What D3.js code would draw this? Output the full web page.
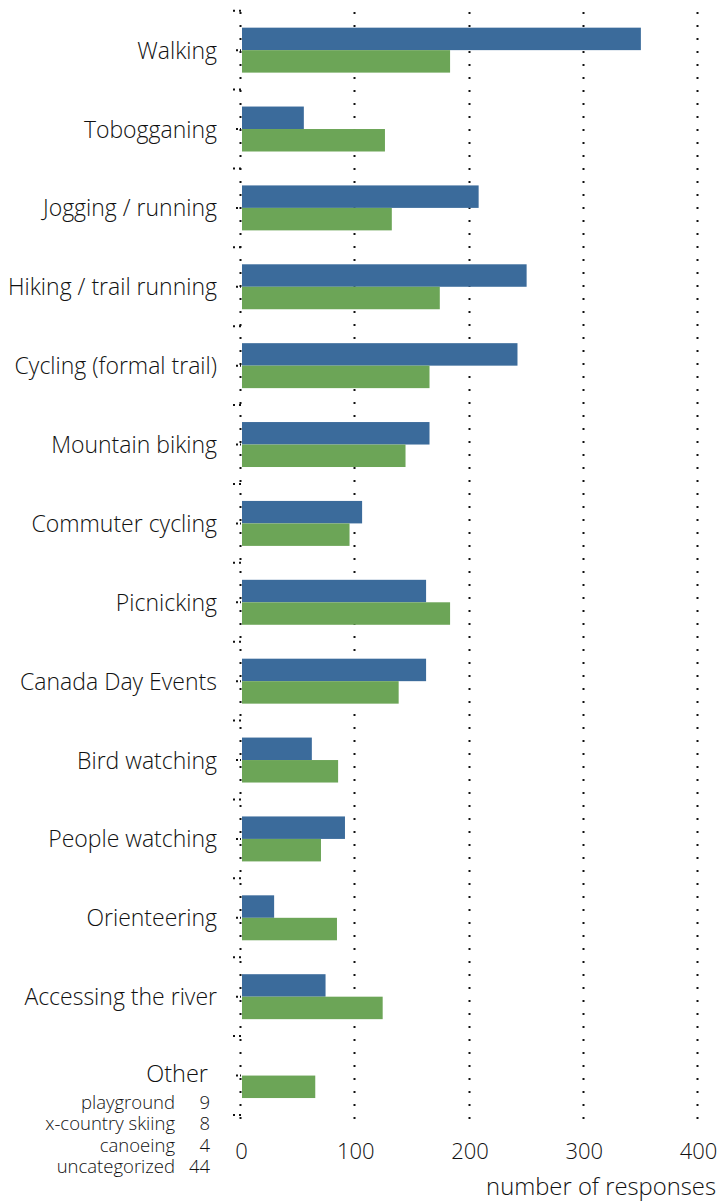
<!DOCTYPE html>
<html>
<head>
<meta charset="utf-8">
<script src="https://cdn.jsdelivr.net/npm/d3@7"></script>
<style>
body { margin: 0; background: #fff; }
text { font-family: "Open Sans", "Noto Sans", sans-serif; font-weight: 300; fill: #111; }
</style>
</head>
<body>
<svg id="chart" width="717" height="1201"></svg>
<script>
var categories = ["Walking", "Tobogganing", "Jogging / running", "Hiking / trail running",
  "Cycling (formal trail)", "Mountain biking", "Commuter cycling", "Picnicking",
  "Canada Day Events", "Bird watching", "People watching", "Orienteering",
  "Accessing the river", "Other"];
var blueValues = [350, 55, 208, 250, 242, 165, 106, 162, 162, 62, 91, 29, 74, 0];
var greenValues = [183, 126, 132, 174, 165, 144, 95, 183, 138, 85, 70, 84, 124, 65];
var otherNames = ["playground", "x-country skiing", "canoeing", "uncategorized"];
var otherCounts = [9, 8, 4, 44];
var xTicks = [0, 100, 200, 300, 400];

var blue = "#3b6b9b", green = "#6ca557";

var svg = d3.select("#chart");

var x = d3.scaleLinear().domain([0, 400]).range([241, 698]);
var y = d3.scaleBand().domain(categories).range([10.7, 1115]).paddingInner(0.43).paddingOuter(0.215);
var sub = d3.scaleBand().domain(["blue", "green"]).range([0, y.bandwidth()]);

// dotted grid lines
svg.append("g").selectAll("line")
  .data(xTicks)
  .enter().append("line")
  .attr("x1", function(d) { return Math.round(x(d)) - 0.5; })
  .attr("x2", function(d) { return Math.round(x(d)) - 0.5; })
  .attr("y1", 12)
  .attr("y2", 1120)
  .attr("stroke", "#111")
  .attr("stroke-width", 2)
  .attr("stroke-dasharray", "2,11");

// small dotted ticks on the category axis
var step = y.step();
var bounds = d3.range(categories.length + 1).map(function(i) { return 10.7 + i * step; });
svg.append("g").selectAll("line")
  .data(bounds)
  .enter().append("line")
  .attr("x1", 233).attr("x2", 241)
  .attr("y1", function(d) { return d; }).attr("y2", function(d) { return d; })
  .attr("stroke", "#111").attr("stroke-width", 2)
  .attr("stroke-dasharray", "2,4");
svg.append("g").selectAll("line")
  .data(categories)
  .enter().append("line")
  .attr("x1", 236).attr("x2", 241)
  .attr("y1", function(d) { return y(d) + y.bandwidth() / 2; })
  .attr("y2", function(d) { return y(d) + y.bandwidth() / 2; })
  .attr("stroke", "#111").attr("stroke-width", 2)
  .attr("stroke-dasharray", "2,2");

// bars
var groups = svg.append("g").selectAll("g")
  .data(categories)
  .enter().append("g")
  .attr("transform", function(d) { return "translate(0," + y(d) + ")"; });

groups.append("rect")
  .attr("x", x(0) + 1)
  .attr("y", sub("blue"))
  .attr("height", sub.bandwidth())
  .attr("width", function(d, i) { return blueValues[i] > 0 ? x(blueValues[i]) - x(0) - 1 : 0; })
  .attr("fill", blue);

groups.append("rect")
  .attr("x", x(0) + 1)
  .attr("y", sub("green"))
  .attr("height", sub.bandwidth())
  .attr("width", function(d, i) { return x(greenValues[i]) - x(0) - 1; })
  .attr("fill", green);

// category labels
svg.append("g").selectAll("text")
  .data(categories.slice(0, categories.length - 1))
  .enter().append("text")
  .attr("x", 217)
  .attr("y", function(d) { return y(d) + y.bandwidth() / 2 + 8.5; })
  .attr("text-anchor", "end")
  .style("font-size", "23px")
  .text(function(d) { return d; });

svg.append("text")
  .attr("x", 208).attr("y", 1082)
  .attr("text-anchor", "end")
  .style("font-size", "23.5px")
  .text("Other");

var other = svg.append("g").selectAll("g")
  .data(otherNames)
  .enter().append("g");
other.append("text")
  .attr("x", 175)
  .attr("y", function(d, i) { return 1109 + i * 21.3; })
  .attr("text-anchor", "end")
  .style("font-size", "18.5px")
  .text(function(d) { return d; });
other.append("text")
  .attr("x", 210)
  .attr("y", function(d, i) { return 1109 + i * 21.3; })
  .attr("text-anchor", "end")
  .style("font-size", "18.5px")
  .text(function(d, i) { return otherCounts[i]; });

// x axis labels
var xAxis = d3.axisBottom(x).tickValues(xTicks).tickSize(0).tickPadding(0);
var ax = svg.append("g").attr("transform", "translate(0,1143)").call(xAxis);
ax.select(".domain").remove();
ax.selectAll("text")
  .attr("dy", "0.71em")
  .style("font-size", "22px")
  .style("font-family", "'Open Sans', 'Noto Sans', sans-serif")
  .style("font-weight", 300)
  .attr("fill", "#111");

svg.append("text")
  .attr("x", 716).attr("y", 1195)
  .attr("text-anchor", "end")
  .style("font-size", "23.8px")
  .text("number of responses");
</script>
</body>
</html>
